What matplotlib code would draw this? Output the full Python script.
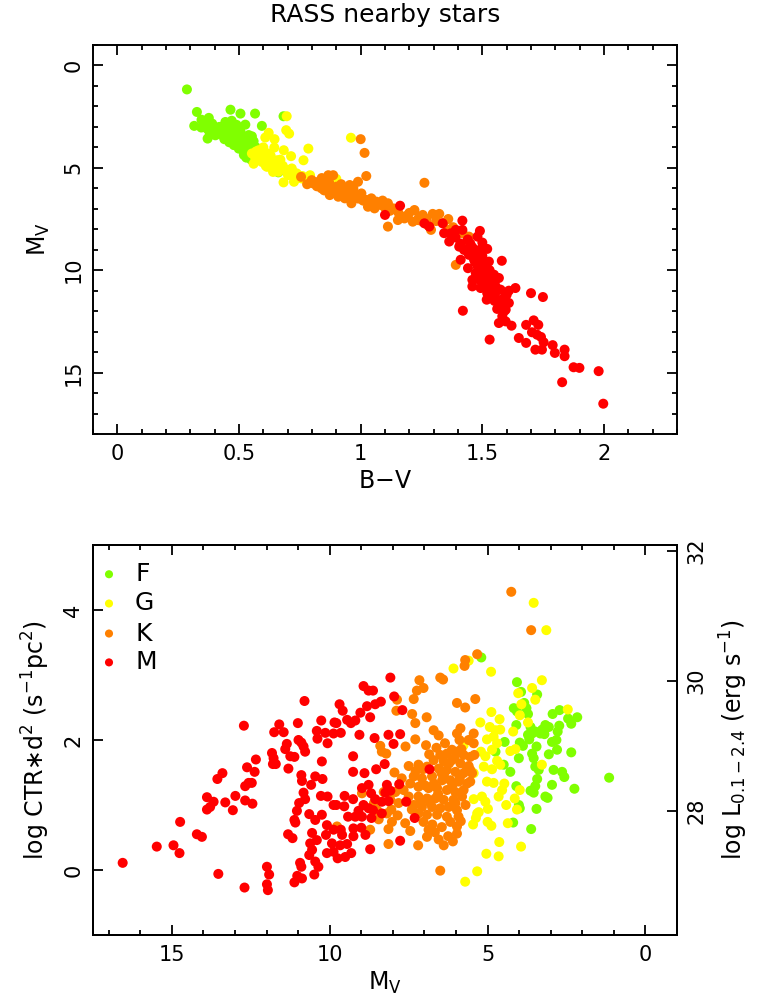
import matplotlib
matplotlib.use("Agg")
import matplotlib.pyplot as plt
from matplotlib.ticker import MultipleLocator, FixedLocator

plt.rcParams['font.family'] = ['DejaVu Sans']
plt.rcParams['mathtext.default'] = 'regular'

# ---------------- data: top panel (B-V, M_V) ----------------
top_F = [(0.286,1.17),(0.327,2.27),(0.465,2.16),(0.506,2.35),(0.566,2.35),(0.346,2.65),(0.316,2.95),
         (0.345,3.03),(0.376,2.56),(0.39,2.84),(0.371,3.57),(0.444,2.76),(0.465,2.81),(0.526,2.89),
         (0.594,2.95),(0.506,3.21),(0.553,3.46),(0.424,3.33),(0.438,3.49),(0.458,3.65),(0.479,3.89),
         (0.499,4.06),(0.519,4.22),(0.526,4.38),(0.54,3.81),(0.485,3.57),(0.512,3.73),(0.41,3.16),
         (0.403,3.41),(0.683,2.48),(0.662,5.22),(0.40,3.0),(0.43,3.1),(0.45,3.2),(0.47,3.3),(0.49,3.45),
         (0.50,3.6),(0.52,3.5),(0.53,3.95),(0.55,4.1),(0.54,4.3),(0.51,4.0),(0.46,3.75),(0.44,3.6),
         (0.42,3.0),(0.37,3.1),(0.36,2.8),(0.48,3.1),(0.56,3.7),(0.57,4.0),(0.50,3.85),(0.53,4.5),
         (0.55,4.6),(0.38,3.35),(0.47,2.7),(0.49,2.9),(0.54,3.40),(0.52,4.37)]
top_G = [(0.696,2.48),(0.694,3.16),(0.706,3.33),(0.622,3.29),(0.608,3.52),(0.646,3.60),(0.645,4.01),
         (0.684,4.14),(0.714,4.43),(0.785,4.06),(0.765,4.63),(0.581,4.14),(0.567,4.54),(0.594,4.71),
         (0.615,4.95),(0.635,4.87),(0.656,4.63),(0.676,4.95),(0.696,5.11),(0.717,5.03),(0.737,5.27),
         (0.683,5.71),(0.726,5.68),(0.758,5.52),(0.792,5.36),(0.553,4.30),(0.601,4.38),(0.622,4.49),
         (0.642,5.11),(0.662,5.19),(0.703,5.36),(0.96,3.53),(0.90,5.54),(0.57,4.2),(0.59,4.4),(0.60,4.6),
         (0.62,4.7),(0.63,4.4),(0.65,4.8),(0.66,5.0),(0.68,4.9),(0.70,5.3),(0.72,5.2),(0.74,5.5),
         (0.76,5.4),(0.78,5.6),(0.58,4.6),(0.61,4.9),(0.64,5.2),(0.67,4.6),(0.69,5.1),(0.60,4.0),
         (0.62,4.3),(0.56,4.8)]
top_K = [(1.0,3.6),(1.016,4.27),(1.023,5.40),(1.262,5.73),(0.755,5.44),(0.799,5.60),(0.867,5.36),
         (0.887,5.36),(0.989,5.68),(0.805,5.76),(0.826,5.68),(0.839,6.0),(0.86,5.84),(0.88,6.09),
         (0.90,5.92),(0.92,6.17),(0.94,6.0),(0.955,5.84),(0.962,6.33),(0.982,6.41),(1.003,6.25),
         (1.023,6.57),(1.044,6.49),(1.064,6.65),(1.085,6.82),(1.112,6.73),(1.132,6.98),(1.153,7.14),
         (1.173,7.39),(1.194,7.30),(1.221,7.06),(1.214,7.63),(1.255,7.30),(1.275,7.79),(1.296,7.25),
         (1.323,7.25),(1.289,8.03),(1.112,7.87),(1.391,9.74),(1.357,8.03),(1.445,8.36),(0.873,6.33),
         (0.908,6.41),(0.935,6.49),(0.962,6.73),(1.03,6.9),(1.057,6.98),(1.153,7.55),(1.18,7.47),
         (1.235,7.55),(0.78,5.8),(0.82,5.9),(0.85,6.1),(0.87,5.7),(0.89,6.2),(0.91,6.3),(0.93,6.1),
         (0.95,6.4),(0.97,6.2),(0.99,6.5),(1.01,6.6),(1.04,6.7),(1.07,6.8),(1.09,6.6),(1.10,6.95),
         (1.12,7.1),(1.14,7.0),(1.16,7.3),(1.20,7.2),(1.24,7.4),(1.27,7.5),(1.31,7.6),(1.34,7.7),
         (1.38,7.9),(1.42,8.2),(1.44,8.6),(1.36,7.5),(1.25,7.6),(0.84,5.5),(0.92,5.8),(0.97,6.0)]
top_M = [(1.162,6.85),(1.10,7.30),(1.262,7.71),(1.282,7.87),(1.337,7.71),(1.418,7.58),(1.343,8.19),
         (1.364,8.60),(1.391,8.03),(1.418,8.03),(1.49,8.08),(1.48,8.36),(1.50,8.65),(1.52,8.96),
         (1.405,8.85),(1.425,9.01),(1.411,9.49),(1.445,9.25),(1.452,8.76),(1.466,9.49),(1.441,9.90),
         (1.486,9.58),(1.507,9.82),(1.527,9.58),(1.473,10.14),(1.459,10.47),(1.459,10.79),(1.493,10.31),
         (1.507,10.63),(1.493,10.87),(1.52,10.14),(1.548,10.22),(1.568,10.38),(1.541,10.55),(1.555,10.79),
         (1.575,10.95),(1.52,11.12),(1.534,11.28),(1.518,11.44),(1.555,11.36),(1.589,11.36),(1.609,11.60),
         (1.575,11.68),(1.561,11.89),(1.596,11.93),(1.582,12.25),(1.568,12.58),(1.596,12.50),(1.62,12.71),
         (1.609,11.0),(1.636,10.87),(1.58,9.54),(1.70,11.12),(1.749,11.31),(1.42,11.98),(1.53,13.39),
         (1.65,13.31),(1.68,13.55),(1.68,12.67),(1.711,12.45),(1.73,12.67),(1.704,13.03),(1.725,13.15),
         (1.741,13.26),(1.752,13.52),(1.745,13.88),(1.718,13.88),(1.789,13.66),(1.798,14.04),(1.838,13.88),
         (1.838,14.20),(1.875,14.74),(1.899,14.77),(1.978,14.93),(1.828,15.47),(1.997,16.52),
         (1.44,8.5),(1.46,8.9),(1.47,9.2),(1.49,9.0),(1.50,9.3),(1.51,9.7),(1.53,10.0),(1.48,9.8),
         (1.50,10.1),(1.52,10.4),(1.54,10.6),(1.56,11.0),(1.55,11.5),(1.53,10.9),(1.51,10.3),(1.49,10.5),
         (1.47,9.6),(1.43,9.0),(1.45,8.7),(1.39,8.4),(1.37,8.2),(1.41,8.7),(1.57,11.6),(1.59,12.0),
         (1.60,11.2)]

# ---------------- data: bottom panel (M_V, log CTR*d^2) ----------------
bot_F = [(5.20,3.27),(4.07,2.89),(3.94,2.74),(3.43,2.70),(3.84,2.57),(4.17,2.49),(4.07,2.44),(3.77,2.49),
         (3.72,2.40),(2.94,2.40),(2.72,2.46),(2.45,2.33),(2.16,2.35),(2.35,2.25),(4.09,2.23),(3.64,2.20),
         (3.49,2.13),(3.33,2.10),(3.17,2.23),(3.06,2.20),(3.27,2.16),(3.59,2.10),(3.72,2.08),(3.20,2.09),
         (2.73,2.22),(2.78,2.13),(3.68,2.01),(4.46,1.97),(3.98,1.96),(3.88,1.91),(3.45,1.90),(2.96,1.97),
         (2.82,2.0),(2.80,1.85),(2.35,1.81),(3.06,1.78),(3.59,1.79),(3.54,1.72),(4.01,1.72),(4.49,1.62),
         (3.49,1.59),(3.38,1.54),(2.91,1.54),(2.64,1.51),(2.57,1.43),(4.28,1.51),(3.43,1.40),(3.49,1.29),
         (2.96,1.31),(1.15,1.42),(2.25,1.25),(4.09,1.29),(3.64,1.22),(3.54,1.19),(3.17,1.13),(3.10,1.11),
         (4.01,1.0),(3.98,0.95),(3.45,0.94),(4.19,0.73),(3.62,0.63),(4.75,1.82)]
bot_G = [(3.54,4.11),(3.14,3.69),(6.08,3.10),(5.60,3.22),(4.89,3.05),(3.28,2.92),(3.59,2.80),(3.49,2.62),
         (4.03,2.72),(3.93,2.55),(2.46,2.47),(3.98,2.38),(3.72,2.27),(4.88,2.43),(4.62,2.32),(5.23,2.27),
         (4.93,2.20),(4.75,2.15),(4.60,2.16),(4.81,2.05),(5.02,2.01),(4.70,1.95),(4.86,1.85),(4.19,2.13),
         (5.76,1.92),(5.21,1.82),(5.07,1.75),(4.28,1.83),(4.12,1.86),(4.70,1.68),(5.12,1.59),(4.86,1.55),
         (4.60,1.62),(3.28,1.62),(5.02,1.36),(4.81,1.34),(4.47,1.33),(4.54,1.23),(4.65,1.13),(3.98,1.23),
         (4.14,1.10),(5.44,1.09),(5.18,1.13),(5.07,1.05),(4.99,0.94),(4.41,1.0),(4.07,0.93),(5.28,0.89),
         (5.37,0.80),(5.46,0.70),(5.00,0.74),(4.88,0.68),(4.36,0.72),(4.63,0.43),(3.94,0.36),(5.04,0.25),
         (4.65,0.21),(5.33,-0.02),(5.71,-0.18),(5.44,1.49),(5.33,0.87)]
bot_K = [(5.33,3.32),(5.71,3.23),(5.73,3.14),(6.50,2.96),(6.41,2.93),(7.16,2.92),(7.03,2.80),(7.24,2.76),
         (7.34,2.63),(7.87,2.62),(7.89,2.45),(5.97,2.57),(5.71,2.50),(5.39,2.63),(7.39,2.40),(7.29,2.26),
         (6.71,2.15),(7.29,2.01),(8.40,1.91),(8.35,1.82),(8.21,1.79),(5.86,2.18),(5.97,2.10),(5.44,2.10),
         (5.60,2.0),(5.89,2.0),(5.44,1.95),(6.50,1.77),(6.29,1.79),(6.13,1.85),(5.97,1.82),(5.76,1.77),
         (5.55,1.74),(6.71,1.69),(6.39,1.67),(6.13,1.69),(5.86,1.64),(5.60,1.60),(7.19,1.62),(6.92,1.59),
         (6.55,1.56),(6.29,1.54),(6.02,1.51),(5.76,1.49),(5.49,1.49),(7.34,1.44),(7.08,1.41),(6.76,1.44),
         (6.44,1.38),(6.18,1.38),(5.92,1.36),(5.65,1.33),(7.45,1.33),(7.19,1.28),(6.87,1.26),(6.60,1.26),
         (6.29,1.23),(6.02,1.20),(5.76,1.23),(7.66,1.23),(7.92,1.20),(8.29,1.20),(7.50,1.13),(7.19,1.13),
         (6.92,1.10),(6.66,1.10),(6.39,1.08),(6.08,1.08),(5.81,1.13),(8.08,1.08),(7.82,1.03),(7.34,1.0),
         (7.08,0.97),(6.76,0.97),(6.50,0.95),(6.23,0.97),(5.97,0.92),(8.98,1.18),(8.50,0.92),(8.19,0.87),
         (7.19,0.87),(6.92,0.85),(6.60,0.85),(6.29,0.82),(8.03,0.74),(7.61,0.72),(8.14,0.63),(8.72,0.62),
         (6.87,0.62),(5.97,0.67),(5.97,0.56),(6.92,0.51),(6.55,0.47),(6.39,0.38),(8.14,0.40),(6.50,-0.01),
         (9.77,0.67),(4.25,4.28),(3.62,3.69),(5.55,1.54),(6.02,1.03),(5.92,0.82),(5.42,1.77),(5.65,1.56),
         (5.55,1.36),
         (6.62,1.88),(6.35,1.95),(6.85,1.78),(7.05,1.55),(6.46,1.49),(6.70,1.33),(6.98,1.30),(7.28,1.52),
         (6.22,1.64),(5.83,1.86),(6.05,1.72),(6.57,1.17),(6.83,1.04),(7.13,1.06),(7.40,0.93),(7.03,0.74),
         (6.75,0.70),(6.45,0.66),(6.18,0.74),(5.88,1.42),(6.12,1.30),(6.38,1.47),(6.95,1.92),(7.50,1.60),
         (7.72,1.41),(7.95,1.50),(8.05,0.93),(7.85,0.84),(6.67,0.58),(6.25,0.52),(5.70,1.00),(5.85,0.75),
         (6.55,2.07),(6.93,2.35),(7.60,1.90),(8.60,1.03),(8.45,0.78),(7.45,0.60),(6.10,0.44),(7.20,0.38)]
bot_M = [(16.56,0.11),(15.48,0.36),(14.95,0.38),(14.76,0.26),(14.74,0.74),(14.21,0.55),(14.05,0.51),
         (13.53,-0.06),(13.89,1.12),(13.89,0.93),(13.79,0.97),(13.68,1.05),(13.56,1.40),(13.40,1.49),
         (13.31,1.04),(13.07,0.92),(12.99,1.14),(12.72,2.22),(12.62,1.58),(12.68,1.29),(12.57,1.34),
         (12.47,1.34),(12.38,1.51),(12.34,1.70),(12.68,1.07),(12.45,1.02),(12.70,-0.27),(11.99,0.05),
         (11.92,-0.07),(11.99,-0.22),(11.96,-0.31),(11.83,1.80),(11.78,1.72),(11.80,1.63),(11.71,1.63),
         (11.76,2.12),(11.60,2.24),(11.46,2.12),(11.41,1.86),(11.36,1.94),(11.31,1.56),(11.25,1.75),
         (11.12,1.74),(11.01,2.26),(10.99,2.0),(10.90,1.96),(10.83,1.90),(10.78,1.82),(10.80,2.60),
         (10.41,2.14),(10.27,2.30),(10.14,2.11),(10.07,1.95),(10.39,2.02),(9.85,2.27),(9.88,2.10),
         (10.25,1.67),(10.90,1.46),(10.88,1.37),(10.46,1.44),(10.23,1.40),(10.59,1.31),(10.83,1.19),
         (10.78,1.09),(10.97,1.03),(10.28,1.14),(10.07,1.13),(11.04,0.91),(11.12,0.77),(11.09,0.73),
         (11.32,0.55),(11.18,0.49),(10.65,0.86),(10.46,0.77),(10.25,0.85),(10.09,0.69),(10.56,0.57),
         (10.62,0.41),(10.41,0.46),(10.56,0.31),(10.65,0.23),(10.46,0.13),(10.36,0.05),(10.49,-0.07),
         (10.94,0.11),(10.90,0.05),(11.03,-0.09),(10.88,-0.13),(11.12,-0.19),(10.09,0.26),(9.93,0.41),
         (10.12,0.54),(9.88,1.0),
         (8.08,2.96),(8.93,2.83),(8.77,2.76),(8.63,2.76),(7.96,2.67),(9.69,2.55),(9.59,2.45),(8.82,2.52),
         (8.56,2.55),(8.38,2.59),(9.03,2.42),(8.72,2.35),(7.70,2.46),(9.45,2.31),(9.33,2.26),(9.19,2.30),
         (9.79,2.26),(9.65,2.11),(9.06,2.08),(8.58,2.03),(8.14,2.08),(7.77,2.09),(7.98,1.94),(9.26,1.75),
         (8.26,1.63),(8.53,1.55),(9.26,1.51),(8.90,1.49),(6.84,1.55),(8.77,1.31),(8.98,1.26),(8.19,1.31),
         (7.80,1.32),(8.69,1.18),(8.24,1.19),(8.08,1.22),(9.53,1.14),(9.26,1.09),(8.56,1.09),(8.35,1.05),
         (8.14,1.06),(7.58,1.05),(9.79,1.0),(9.54,0.98),(8.93,1.0),(8.77,0.95),(8.63,0.92),(8.35,0.87),
         (9.09,0.91),(9.42,0.82),(9.19,0.82),(8.98,0.82),(8.68,0.80),(7.31,0.80),(9.88,0.62),(9.65,0.62),
         (9.25,0.64),(9.00,0.65),(8.87,0.54),(9.61,0.54),(9.25,0.52),(9.67,0.38),(9.45,0.40),(7.77,0.45),
         (8.72,0.32),(9.88,0.28),(9.32,0.26),(9.75,0.18),(9.51,0.20)]

colors = {'F': '#80ff00', 'G': '#ffff00', 'K': '#ff8000', 'M': '#ff0000'}
classes = ['F', 'G', 'K', 'M']
top_data = {'F': top_F, 'G': top_G, 'K': top_K, 'M': top_M}
bot_data = {'F': bot_F, 'G': bot_G, 'K': bot_K, 'M': bot_M}
L_OFFSET = 27.09  # log L = log CTR*d^2 + offset

TICK_FS = 15
LAB_FS = 17
MS = 52

fig = plt.figure(figsize=(7.63, 10.07), dpi=100)

def style_axis(ax):
    for s in ax.spines.values():
        s.set_linewidth(1.4)
    ax.tick_params(which='both', direction='in', width=1.3, labelsize=TICK_FS, pad=7)
    ax.tick_params(which='major', length=7.5)
    ax.tick_params(which='minor', length=3.8)

# ---------------- top panel ----------------
ax1 = fig.add_axes([93/763, 1-434/1007, 584/763, 389/1007])
for c in classes:
    xs = [p[0] for p in top_data[c]]
    ys = [p[1] for p in top_data[c]]
    ax1.scatter(xs, ys, s=MS, color=colors[c], edgecolors='none', zorder=3)
ax1.set_xlim(-0.1, 2.3)
ax1.set_ylim(18, -1)
ax1.xaxis.set_major_locator(MultipleLocator(0.5))
ax1.xaxis.set_minor_locator(MultipleLocator(0.1))
ax1.yaxis.set_major_locator(MultipleLocator(5))
ax1.yaxis.set_minor_locator(MultipleLocator(1))
style_axis(ax1)
ax1.tick_params(which='both', top=True, right=True)
ax1.xaxis.set_major_formatter(plt.FuncFormatter(lambda v, p: ('%g' % round(v, 2))))
ax1.tick_params(axis='y', labelrotation=90)
for lab in ax1.get_yticklabels():
    lab.set_va('center')
ax1.set_xlabel('B$-$V', fontsize=LAB_FS, labelpad=4)
ax1.set_ylabel('M$_V$', fontsize=LAB_FS, labelpad=8)
fig.text(385/763, 1-15/1007, 'RASS nearby stars', ha='center', va='center', fontsize=18)

# ---------------- bottom panel ----------------
ax2 = fig.add_axes([93/763, 1-935/1007, 584/763, 390/1007])
for c in classes:
    xs = [p[0] for p in bot_data[c]]
    ys = [p[1] for p in bot_data[c]]
    ax2.scatter(xs, ys, s=MS, color=colors[c], edgecolors='none', zorder=3)
ax2.set_xlim(17.5, -1)
ax2.set_ylim(-1, 5)
ax2.xaxis.set_major_locator(MultipleLocator(5))
ax2.xaxis.set_minor_locator(MultipleLocator(1))
ax2.yaxis.set_major_locator(MultipleLocator(2))
style_axis(ax2)
ax2.tick_params(which='both', top=True, right=False)
ax2.tick_params(axis='y', labelrotation=90)
for lab in ax2.get_yticklabels():
    lab.set_va('center')
ax2.set_xlabel('M$_V$', fontsize=LAB_FS, labelpad=4)
ax2.set_ylabel('log CTR$\\ast$d$^2$ (s$^{-1}$pc$^2$)', fontsize=LAB_FS, labelpad=8)

ax3 = ax2.twinx()
ax3.set_ylim(-1 + L_OFFSET, 5 + L_OFFSET)
ax3.yaxis.set_major_locator(FixedLocator([28, 30, 32]))
style_axis(ax3)
ax3.tick_params(axis='y', labelrotation=90)
for lab in ax3.get_yticklabels():
    lab.set_va('center')
ax3.set_ylabel('log L$_{0.1-2.4}$ (erg s$^{-1}$)', fontsize=LAB_FS, labelpad=8)

# legend
leg_y = [0.925, 0.850, 0.773, 0.699]
for c, yy in zip(classes, leg_y):
    ax2.scatter([0.0274], [yy], s=34, color=colors[c], edgecolors='none', transform=ax2.transAxes, zorder=4)
    ax2.text(0.072, yy, c, transform=ax2.transAxes, fontsize=18, va='center', ha='left')

fig.savefig('out.png', dpi=100)
